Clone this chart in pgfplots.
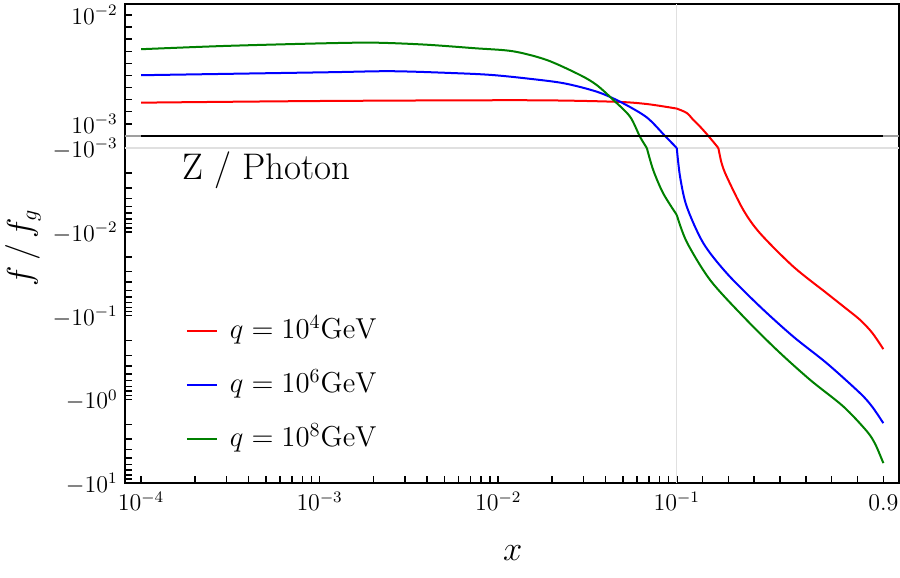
\documentclass[border=0pt]{standalone}
\usepackage{pgfplots}
\pgfplotsset{compat=1.18}
\definecolor{cgreen}{RGB}{0,128,0}

% f/f_g for three scales q; each curve is split where the
% axis changes from one scale to the other
% q = 10^4 GeV
\pgfplotstableread{
x        f
0.0001   0.00275
0.00107  0.00289
0.0141   0.00295
0.0441   0.00283
0.0677   0.00264
0.1      0.00226
}\qfourA
\pgfplotstableread{
x        f
0.1      0.00226
0.1387   0.00190
0.1643   0.00132
0.1902   0.00077
0.2224   0.0
0.2611  -0.001
}\qfourB
\pgfplotstableread{
x        f
0.2611  -0.001
0.2736  -0.00151
0.2936  -0.0022
0.3579  -0.0055
0.4226  -0.01043
0.5515  -0.0261
0.6808  -0.0542
0.75    -0.080
0.8098  -0.1127
0.857   -0.161
0.9     -0.252
}\qfourC
% q = 10^6 GeV
\pgfplotstableread{
x        f
0.0001   0.00502
0.00107  0.00526
0.00254  0.00535
0.00598  0.00518
0.0092   0.00504
0.0141   0.00477
0.0232   0.00436
0.0356   0.00366
0.0481   0.00283
0.0677   0.00155
0.0859   0.0
0.1     -0.001
}\qsixA
\pgfplotstableread{
x        f
0.1     -0.001
0.1128  -0.0022
0.1387  -0.00501
0.2030  -0.0137
0.2936  -0.0313
0.4226  -0.0784
0.5515  -0.179
0.6808  -0.371
0.8098  -0.845
0.857   -1.23
0.9     -1.93
}\qsixB
% q = 10^8 GeV
\pgfplotstableread{
x        f
0.0001   0.00717
0.000295 0.00744
0.00107  0.00766
0.00204  0.00771
0.00389  0.00755
0.00741  0.00725
0.0121   0.00700
0.0187   0.00628
0.0287   0.00504
0.0356   0.00421
0.0441   0.00298
0.0547   0.00160
0.0622  -0.00006
0.068   -0.001
}\qeightA
\pgfplotstableread{
x        f
0.068   -0.001
0.0738  -0.00183
0.0839  -0.00347
0.1     -0.0063
}\qeightB
\pgfplotstableread{
x        f
0.1     -0.0063
0.1387  -0.01325
0.2289  -0.0376
0.3579  -0.103
0.4872  -0.257
0.6162  -0.586
0.7451  -1.22
0.8357  -2.40
0.869   -3.45
0.9     -5.79
}\qeightC

\begin{document}
\begin{tikzpicture}
\useasboundingbox (-62.5pt,-47.5pt) rectangle (387.5pt,241.5pt);
\begin{axis}[
  at={(0pt,0pt)}, anchor=south west,
  scale only axis, width=387pt, height=239.5pt,
  % log scale below x=0.1, linear above
  x coord trafo/.code={\begingroup\pgfkeys{/pgf/fpu=true,/pgf/fpu/output format=fixed}%
    \pgfmathparse{(#1<0.1)*ln(min(#1,0.1))/ln(10)+(1-(#1<0.1))*(1.446*(#1)-1.1446)}%
    \pgfmathsmuggle\pgfmathresult\endgroup},
  % linear for f >= -1e-3, logarithmic in |f| below
  y coord trafo/.code={\begingroup\pgfkeys{/pgf/fpu=true,/pgf/fpu/output format=fixed}%
    \pgfmathparse{(#1<-0.001)*(-3.1444-ln(max(-(#1),0.001))/ln(10))+(1-(#1<-0.001))*144.4*(#1)}%
    \pgfmathsmuggle\pgfmathresult\endgroup},
  xmin=0.0000813, xmax=0.9607, ymin=-10, ymax=0.010909,
  enlargelimits=false,
  axis line style={black, line width=1pt},
  tick align=inside, xtick pos=left, ytick pos=left,
  major tick length=3.5pt, minor tick length=3.5pt,
  tick style={black, line width=0.75pt},
  xtick={0.0001,0.001,0.01,0.1,0.9},
  xticklabels={$10^{-4}$,$10^{-3}$,$10^{-2}$,$10^{-1}$,$0.9$},
  minor xtick={0.0002,0.0003,0.0004,0.0005,0.0006,0.0007,0.0008,0.0009,
    0.002,0.003,0.004,0.005,0.006,0.007,0.008,0.009,
    0.02,0.03,0.04,0.05,0.06,0.07,0.08,0.09,
    0.2,0.3,0.4,0.5,0.6,0.7,0.8},
  ytick={-10,-1,-0.1,-0.01,-0.001,0.001,0.01},
  yticklabels={$-10^{1}$,$-10^{0}$,$-10^{-1}$,$-10^{-2}$,$-10^{-3}$,$10^{-3}$,$10^{-2}$},
  minor ytick={0.002,0.003,0.004,0.005,0.006,0.007,0.008,0.009,
    -0.002,-0.003,-0.004,-0.005,-0.006,-0.007,-0.008,-0.009,
    -0.02,-0.03,-0.04,-0.05,-0.06,-0.07,-0.08,-0.09,
    -0.2,-0.3,-0.4,-0.5,-0.6,-0.7,-0.8,-0.9,
    -2,-3,-4,-5,-6,-7,-8,-9},
  ticklabel style={font=\fontsize{11.5}{13}\selectfont, inner sep=0pt},
  xticklabel style={anchor=base, yshift=-14pt},
  yticklabel style={anchor=base east, xshift=-3.5pt, yshift=-4.8pt},
  legend style={at={(0.0788,0.3445)}, anchor=north west, draw=none, fill=none,
    inner sep=0pt, outer sep=0pt, row sep=13.5pt, column sep=6pt,
    font=\fontsize{14.6}{17}\selectfont,
    nodes={inner sep=0pt, text height=10.5pt, text depth=3pt}},
  legend cell align=left,
  legend image code/.code={\draw[#1] (0pt,0pt) -- (15pt,0pt);},
  every axis plot/.append style={line width=1pt},
]
% reference lines
\addplot[gray!75, line width=0.8pt, forget plot] coordinates {(0.0000813,0) (0.9607,0)};
\addplot[black!12, line width=0.6pt, forget plot] coordinates {(0.0000813,-0.001) (0.9607,-0.001)};
\addplot[black!12, line width=0.6pt, forget plot] coordinates {(0.1,-10) (0.1,0.010909)};

\addplot[red, smooth, tension=0.5] table[x=x, y=f] {\qfourA};
\addlegendentry{$q=10^{4}\mathrm{GeV}$}
\addplot[blue, smooth, tension=0.5] table[x=x, y=f] {\qsixA};
\addlegendentry{$q=10^{6}\mathrm{GeV}$}
\addplot[cgreen, smooth, tension=0.5] table[x=x, y=f] {\qeightA};
\addlegendentry{$q=10^{8}\mathrm{GeV}$}

\addplot[red, smooth, tension=0.5, forget plot] table[x=x, y=f] {\qfourB};
\addplot[red, smooth, tension=0.5, forget plot] table[x=x, y=f] {\qfourC};
\addplot[blue, smooth, tension=0.5, forget plot] table[x=x, y=f] {\qsixB};
\addplot[cgreen, smooth, tension=0.5, forget plot] table[x=x, y=f] {\qeightB};
\addplot[cgreen, smooth, tension=0.5, forget plot] table[x=x, y=f] {\qeightC};

\addplot[black, line width=1pt, forget plot] coordinates {(0.0001,0) (0.9,0)};
\end{axis}
\node[font=\fontsize{18.5}{22}\selectfont, anchor=base west] at (25pt,151.5pt) {Z / Photon};
\node[font=\fontsize{16}{19}\selectfont] at (193.9pt,-35pt) {$x$};
\node[font=\fontsize{16}{19}\selectfont, rotate=90] at (-51pt,117.5pt) {$f\,/\,f_g$};
\end{tikzpicture}
\end{document}
